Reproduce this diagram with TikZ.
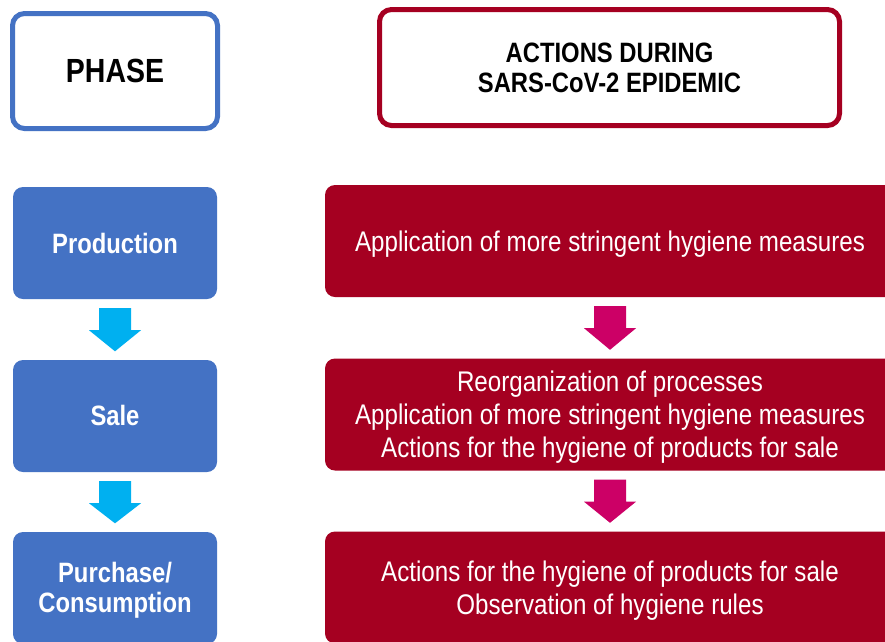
\documentclass[tikz,border=0pt]{standalone}
\usepackage{fontspec}
\setmainfont{Liberation Sans}[FakeStretch=0.85]
\usetikzlibrary{calc}
\definecolor{phaseblue}{HTML}{4472C4}
\definecolor{arrowcyan}{HTML}{00B0F0}
\definecolor{actionred}{HTML}{A50021}
\definecolor{arrowmag}{HTML}{CC0066}
\tikzset{
  headbox/.style={rectangle, rounded corners=12pt, line width=5pt, fill=white,
    align=center, inner sep=0pt, font=\bfseries\fontsize{28}{30}\selectfont},
  phasebox/.style={rectangle, rounded corners=10pt, fill=phaseblue,
    minimum width=204pt, minimum height=112pt, inner sep=0pt},
  phasetext/.style={text=white, align=center, inner sep=0pt,
    font=\bfseries\fontsize{28}{30}\selectfont},
  actionbox/.style={rectangle, rounded corners=10pt, fill=actionred,
    minimum width=570pt, minimum height=112pt, inner sep=0pt},
  actiontext/.style={text=white, align=center, inner sep=0pt,
    font=\fontsize{28.4}{33}\selectfont},
}
% block arrow from the bottom of one box to the top of the next
\newcommand{\blockarrow}[3]{%
  \fill[#3] ($(#1.south)+(-16,9)$) -- ($(#1.south)+(16,9)$)
    -- ($(#1.south)+(16,31)$) -- ($(#1.south)+(26,31)$)
    -- ($(#2.north)+(0,-8.5)$)
    -- ($(#1.south)+(-26,31)$) -- ($(#1.south)+(-16,31)$) -- cycle;}
\begin{document}
\begin{tikzpicture}[x=1pt,y=-1pt]
  \useasboundingbox (0,0) rectangle (885,641);
  \clip (0,0) rectangle (885,641);
  \fill[white] (0,0) rectangle (885,641);

  % column headers
  \node[headbox, draw=phaseblue, minimum width=205pt, minimum height=115pt,
        font=\bfseries\fontsize{33.5}{36}\selectfont] (phase) at (115,71) {PHASE};
  \node[headbox, draw=actionred, minimum width=460pt, minimum height=116pt]
        (actions) at (609.5,67.5) {ACTIONS DURING\\SARS-CoV-2 EPIDEMIC};

  % phases
  \node[phasebox] (prod) at (115,243) {};
  \node[phasebox] (sale) at (115,416) {};
  \node[phasebox] (purch) at (115,588) {};
  \node[phasetext] (prodtxt) at ($(prod.center)+(0,0)$) {Production};
  \node[phasetext] (saletxt) at ($(sale.center)+(0,-0.5)$) {Sale};
  \node[phasetext] (purchtxt) at ($(purch.center)+(0,2)$) {Purchase/\\Consumption};

  % actions
  \node[actionbox] (act1) at (610,241) {};
  \node[actionbox] (act2) at (610,414.5) {};
  \node[actionbox] (act3) at (610,587.5) {};
  \node[actiontext] (act1txt) at ($(act1.center)+(0,3)$)
    {Application of more stringent hygiene measures};
  \node[actiontext] (act2txt) at ($(act2.center)+(0,3)$)
    {Reorganization of processes\\Application of more stringent hygiene measures\\Actions for the hygiene of products for sale};
  \node[actiontext] (act3txt) at ($(act3.center)+(0,3)$)
    {Actions for the hygiene of products for sale\\Observation of hygiene rules};

  % arrows between steps
  \blockarrow{prod}{sale}{arrowcyan}
  \blockarrow{sale}{purch}{arrowcyan}
  \blockarrow{act1}{act2}{arrowmag}
  \blockarrow{act2}{act3}{arrowmag}
\end{tikzpicture}
\end{document}
